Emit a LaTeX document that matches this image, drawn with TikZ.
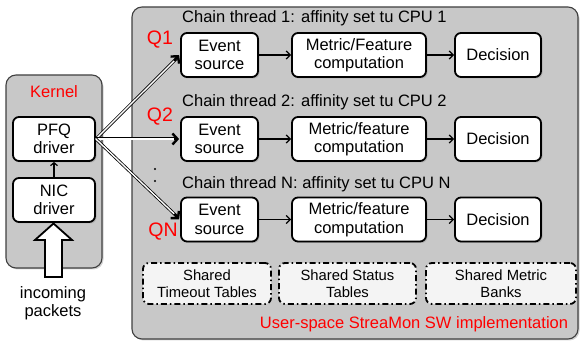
\documentclass[tikz,border=0pt]{standalone}
\usepackage{fontspec}
\setmainfont{Liberation Sans}
\usetikzlibrary{arrows.meta,shadows}
\definecolor{panel}{HTML}{C8C8C8}
\definecolor{lightbox}{HTML}{F4F4F4}
\definecolor{qred}{HTML}{FF0000}
\begin{document}
\begin{tikzpicture}[x=1pt,y=-1pt,
  panelbox/.style={draw=black!75, line width=1.1pt, fill=panel, rounded corners=10pt,
    drop shadow={shadow xshift=1.5pt,shadow yshift=-1.5pt,opacity=0.35}},
  box/.style={draw=black, line width=1.8pt, fill=white, rounded corners=6pt, align=center,
    inner sep=0pt, font=\fontsize{16.5}{18.5}\selectfont,
    drop shadow={shadow xshift=1.5pt,shadow yshift=-1.5pt,opacity=0.35}},
  sharedbox/.style={draw=black, line width=1.8pt, fill=lightbox, rounded corners=6pt, align=center,
    inner sep=0pt, font=\fontsize{14.8}{17}\selectfont,
    dash pattern=on 6pt off 3pt on 1.5pt off 3pt},
  chainlbl/.style={anchor=west, inner sep=0pt, font=\fontsize{16.5}{18.5}\selectfont},
  qlbl/.style={text=qred, inner sep=0pt, font=\fontsize{19.5}{22}\selectfont},
  redlbl/.style={text=qred, inner sep=0pt, font=\fontsize{16.5}{18.5}\selectfont},
  flow/.style={line width=1.3pt, -{Straight Barb[length=4pt,width=8pt,line width=1.3pt]}},
  queue/.style={double=white, draw=black, double distance=1.4pt, line width=0.8pt, shorten >=3pt},
  queuetip/.style={line width=2.4pt, -{Straight Barb[length=5pt,width=11pt,line width=2.4pt]}}
]
\useasboundingbox (0,0) rectangle (582,344);

% panels
\path[panelbox] (6,75) rectangle (102,268);
\path[panelbox] (132,7) rectangle (578,339);

% kernel side
\node[redlbl] (klbl) at (54,92) {Kernel};
\node[box, minimum width=82pt, minimum height=44pt] (pfq) at (54,139) {PFQ\\driver};
\node[box, minimum width=82pt, minimum height=44pt] (nic) at (54,200) {NIC\\driver};
\draw[flow, -{Straight Barb[length=3pt,width=7pt,line width=1.2pt]}] (nic.north) -- (pfq.south);
\draw[fill=white, line width=1.8pt, line join=miter]
  (45,277) -- (45,240) -- (35,240) -- (53.5,223.5) -- (72,240) -- (62,240) -- (62,277) -- cycle;
\node[align=center, inner sep=0pt, font=\fontsize{16.5}{17.5}\selectfont] (inc) at (53,303) {incoming\\packets};

% chain labels
\node[chainlbl] (c1) at (182,18) {Chain thread 1: affinity set tu CPU 1};
\node[chainlbl] (c2) at (182,102) {Chain thread 2: affinity set tu CPU 2};
\node[chainlbl] (cN) at (182,184) {Chain thread N: affinity set tu CPU N};

% rows
\foreach \r/\y/\m in {1/55/Metric\slash Feature, 2/139/Metric\slash feature, N/219.5/Metric\slash feature}{
  \node[box, minimum width=77pt, minimum height=44pt] (es\r) at (219.5,\y) {Event\\source};
  \node[box, minimum width=134pt, minimum height=44pt] (mf\r) at (359,\y) {\m\\computation};
  \node[box, minimum width=86pt, minimum height=44pt] (de\r) at (498,\y) {Decision};
  \draw[flow] (es\r.east) -- (mf\r.west);
  \draw[flow] (mf\r.east) -- (de\r.west);
}

% queue labels
\node[qlbl] (q1) at (160,40) {Q1};
\node[qlbl] (q2) at (160,117) {Q2};
\node[qlbl] (qN) at (163,232) {QN};
\fill (155,169) circle (1.1pt);
\fill (155,181) circle (1.1pt);

% queue connectors
\foreach \r in {1,2,N}{
  \draw[queue] (pfq.east) -- (es\r.west);
  \path (pfq.east) -- (es\r.west) coordinate[pos=0.93] (qt\r);
  \draw[queuetip] (qt\r) -- ([xshift=-1pt]es\r.west);
}

% shared
\node[sharedbox, minimum width=128pt, minimum height=41pt] (sh1) at (207,283.5) {Shared\\Timeout Tables};
\node[sharedbox, minimum width=137pt, minimum height=41pt] (sh2) at (347.5,283.5) {Shared Status\\Tables};
\node[sharedbox, minimum width=150pt, minimum height=41pt] (sh3) at (501,283.5) {Shared Metric\\Banks};

\node[redlbl] (ulbl) at (414,324) {User-space StreaMon SW implementation};
\end{tikzpicture}
\end{document}
